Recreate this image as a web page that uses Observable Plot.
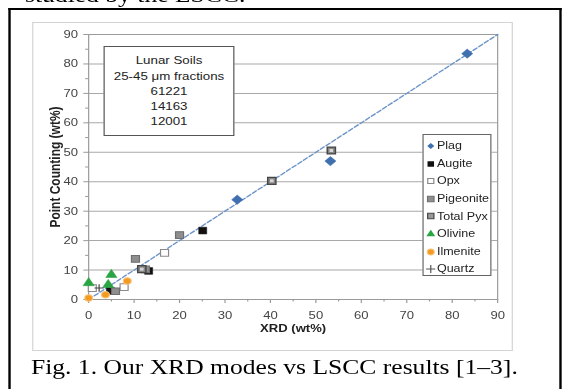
<!DOCTYPE html>
<html><head><meta charset="utf-8">
<script src="https://cdn.jsdelivr.net/npm/d3@7"></script>
<script src="https://cdn.jsdelivr.net/npm/@observablehq/plot@0.6"></script>
<style>
html,body{margin:0;padding:0;background:#fff;overflow:hidden;width:564px;height:389px;}
#wrap{position:absolute;left:0;top:0;width:474px;height:389px;transform:scaleX(1.19);transform-origin:0 0;}
.serif{position:absolute;font-family:"Liberation Serif","Times New Roman",serif;font-size:21.5px;line-height:21.5px;color:#000;white-space:nowrap;}
#hdr{left:21px;top:-15px;}
#caption{left:26px;top:357px;}
#border{position:absolute;left:6.7px;top:8px;width:465px;height:400px;border:2px solid #000;border-bottom:none;box-sizing:border-box;}
#chartbox{position:absolute;left:26.9px;top:22px;width:404.2px;height:329px;border:1px solid #d4d4d4;box-sizing:border-box;}
#chart{position:absolute;left:26.9px;top:22px;}
#note{position:absolute;left:86.6px;top:46px;width:110.9px;height:90px;border:1px solid #555;background:#fff;box-sizing:border-box;
 font-family:"Liberation Sans",Arial,sans-serif;font-size:11.2px;line-height:15.3px;text-align:center;color:#222;padding-top:6.3px;}
#legend{position:absolute;left:354.6px;top:134px;width:58px;height:142px;border:1px solid #666;background:#fff;box-sizing:border-box;
 font-family:"Liberation Sans",Arial,sans-serif;font-size:10.5px;color:#222;}
.lrow{position:absolute;left:0;height:17.6px;line-height:17.6px;white-space:nowrap;}
.lrow svg{position:absolute;left:2.6px;top:4.8px;}
.lrow span{position:absolute;left:11.6px;}
</style></head><body>
<div id="wrap">
 <div id="hdr" class="serif">studied by the LSCC.</div>
 <div id="border"></div>
 <div id="chartbox"></div>
 <div id="chart"></div>
 <div id="note"></div>
 <div id="legend"></div>
 <div id="caption" class="serif">Fig. 1. Our XRD modes vs LSCC results [1–3].</div>
</div>
<script>
// ---- data ----
const plagX = [83.3, 53.2, 32.7];
const plagY = [83.5, 47.0, 33.9];
const augiteX = [25.1, 13.2, 4.8];
const augiteY = [23.4, 9.7, 2.9];
const opxX = [16.7, 7.8, 0.8];
const opxY = [15.8, 4.2, 3.9];
const pigeoniteX = [20.0, 10.3, 12.5, 5.9];
const pigeoniteY = [21.9, 13.8, 10.2, 2.8];
const totalPyxX = [53.4, 40.3, 11.7];
const totalPyxY = [50.6, 40.3, 10.3];
const olivineX = [0.0, 4.3, 5.0];
const olivineY = [5.6, 5.0, 8.4];
const ilmeniteX = [0.0, 3.7, 8.5];
const ilmeniteY = [0.5, 1.6, 6.3];
const quartzX = [2.3];
const quartzY = [3.9];
const oneToOne = [0, 90];
const xTicks = [0, 10, 20, 30, 40, 50, 60, 70, 80, 90];
const yTicks = [0, 10, 20, 30, 40, 50, 60, 70, 80, 90];
const minorTicks = [5, 15, 25, 35, 45, 55, 65, 75, 85];
const seriesNames = ["Plag", "Augite", "Opx", "Pigeonite", "Total Pyx", "Olivine", "Ilmenite", "Quartz"];
const noteLines = ["Lunar Soils", "25-45 \u03bcm fractions", "61221", "14163", "12001"];
const xLabel = "XRD (wt%)";
const yLabel = "Point Counting (wt%)";

const pts = (xs, ys) => xs.map((x, i) => ({x, y: ys[i]}));

const axisStroke = "#9a9a9a";
const chart = Plot.plot({
  width: 404, height: 329,
  marginLeft: 47, marginRight: 13.3, marginTop: 12, marginBottom: 52,
  x: {domain: [0, 90]},
  y: {domain: [0, 90]},
  style: {fontFamily: "'Liberation Sans', Arial, sans-serif", fontSize: "11px", background: "transparent", overflow: "visible"},
  marks: [
    Plot.gridY(yTicks.filter(t => t > 0 && t < 90), {stroke: "#a8a8a8", strokeOpacity: 1}),
    Plot.frame({stroke: axisStroke}),
    Plot.axisY({ticks: minorTicks, tickSize: 2.5, tickFormat: () => "", stroke: axisStroke, label: null}),
    Plot.axisY({ticks: yTicks, tickSize: 4, tickPadding: 5, stroke: axisStroke, fill: "#444", label: null}),
    Plot.axisX({ticks: minorTicks, tickSize: 2.5, tickFormat: () => "", stroke: axisStroke, label: null}),
    Plot.axisX({ticks: xTicks, tickSize: 4, tickPadding: 8, stroke: axisStroke, fill: "#444", label: null}),
    Plot.text([yLabel], {text: d => d, frameAnchor: "left", textAnchor: "middle", dx: -28, rotate: -90, fontWeight: "bold", fontSize: 12, fill: "#222"}),
    Plot.text([xLabel], {text: d => d, frameAnchor: "bottom", textAnchor: "middle", dy: 32, fontWeight: "bold", fontSize: 11, fill: "#222"}),
    Plot.line(oneToOne, {x: d => d, y: d => d, stroke: "#6b93c8", strokeWidth: 1.3, strokeDasharray: "4,2"}),
    Plot.dot(pts(plagX, plagY), {x: "x", y: "y", symbol: "diamond2", r: 4.2, fill: "#3f6faf", stroke: "#3f6faf", strokeWidth: 0.5}),
    Plot.dot(pts(augiteX, augiteY), {x: "x", y: "y", symbol: "square", r: 3.8, fill: "#111", stroke: "#111", strokeWidth: 0.5}),
    Plot.dot(pts(opxX, opxY), {x: "x", y: "y", symbol: "square", r: 3.8, fill: "#fff", stroke: "#8a8a8a", strokeWidth: 1}),
    Plot.dot(pts(pigeoniteX, pigeoniteY), {x: "x", y: "y", symbol: "square", r: 3.8, fill: "#8e8e8e", stroke: "#6e6e6e", strokeWidth: 1}),
    Plot.dot(pts(totalPyxX, totalPyxY), {x: "x", y: "y", symbol: "square", r: 3.9, fill: "#858585", stroke: "#454545", strokeWidth: 1.2}),
    Plot.dot(pts(totalPyxX, totalPyxY), {x: "x", y: "y", symbol: "square", r: 1.7, fill: "#d6d6d6"}),
    Plot.dot(pts(olivineX, olivineY), {x: "x", y: "y", symbol: "triangle", r: 3.5, fill: "#2aa543", stroke: "#2aa543", strokeWidth: 0.5}),
    Plot.dot(pts(ilmeniteX, ilmeniteY), {x: "x", y: "y", symbol: "circle", r: 3.3, fill: "#f39a23", stroke: "#f8c479", strokeWidth: 1}),
    Plot.dot(pts(quartzX, quartzY), {x: "x", y: "y", symbol: "plus", r: 2.6, stroke: "#444", strokeWidth: 1})
  ]
});
document.getElementById("chart").appendChild(chart);

// annotation box
const note = document.getElementById("note");
noteLines.forEach(t => { const d = document.createElement("div"); d.textContent = t; note.appendChild(d); });

// legend
const glyphs = {
  "Plag": {type: d3.symbolDiamond2, size: 22, fill: "#3f6faf", stroke: "none"},
  "Augite": {type: d3.symbolSquare, size: 30, fill: "#111", stroke: "none"},
  "Opx": {type: d3.symbolSquare, size: 26, fill: "#fff", stroke: "#888"},
  "Pigeonite": {type: d3.symbolSquare, size: 30, fill: "#8e8e8e", stroke: "#6e6e6e"},
  "Total Pyx": {type: d3.symbolSquare, size: 28, fill: "#999", stroke: "#454545"},
  "Olivine": {type: d3.symbolTriangle, size: 24, fill: "#2aa543", stroke: "none"},
  "Ilmenite": {type: d3.symbolCircle, size: 26, fill: "#f39a23", stroke: "#f8c479"},
  "Quartz": {type: d3.symbolPlus, size: 22, fill: "none", stroke: "#555"}
};
const legend = document.getElementById("legend");
seriesNames.forEach((name, i) => {
  const g = glyphs[name];
  const row = document.createElement("div");
  row.className = "lrow";
  row.style.top = (2.2 + i * 17.6) + "px";
  const path = d3.symbol(g.type, g.size)();
  row.innerHTML = `<svg width="8" height="8" viewBox="-4 -4 8 8"><path d="${path}" fill="${g.fill}" stroke="${g.stroke}" stroke-width="1"/></svg><span></span>`;
  row.querySelector("span").textContent = name;
  legend.appendChild(row);
});
</script>
</body></html>
